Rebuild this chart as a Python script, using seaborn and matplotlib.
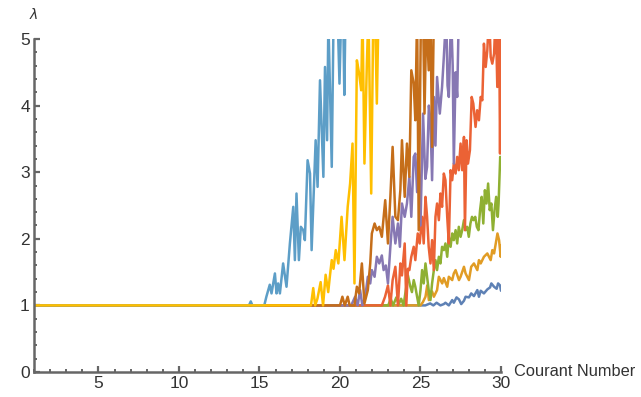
import matplotlib
matplotlib.use("Agg")
import matplotlib.pyplot as plt
from matplotlib.ticker import MultipleLocator
import pandas as pd
import seaborn as sns

# vertices (Courant number, lambda); values above 5 leave the plot range
blue = [(1, 1), (25.3, 1), (25.6, 1.03), (25.8, 1.0), (26.0, 1.04), (26.24, 1.0), (26.45, 1.02),
        (26.55, 1.04), (26.76, 1.0), (26.97, 1.08), (27.07, 1.04), (27.24, 1.12), (27.39, 1.09),
        (27.53, 1.02), (27.7, 1.07), (27.8, 1.13), (28.01, 1.12), (28.15, 1.18), (28.32, 1.14),
        (28.53, 1.23), (28.63, 1.13), (28.74, 1.22), (28.94, 1.18), (29.15, 1.24), (29.32, 1.27),
        (29.4, 1.33), (29.57, 1.28), (29.73, 1.25), (29.82, 1.33), (29.94, 1.3), (30, 1.22)]
orange = [(1, 1), (25.0, 1), (25.15, 1.05), (25.31, 1.13), (25.42, 1.3), (25.52, 1.08), (25.72, 1.21),
          (25.83, 1.13), (26.03, 1.23), (26.14, 1.43), (26.35, 1.33), (26.45, 1.41), (26.66, 1.28),
          (26.76, 1.43), (26.97, 1.38), (27.07, 1.48), (27.18, 1.53), (27.39, 1.38), (27.49, 1.43),
          (27.7, 1.58), (27.8, 1.48), (28.01, 1.38), (28.15, 1.58), (28.32, 1.63), (28.53, 1.53),
          (28.63, 1.68), (28.74, 1.63), (28.94, 1.73), (29.15, 1.78), (29.36, 1.68), (29.46, 1.83),
          (29.57, 1.78), (29.78, 2.08), (29.88, 1.98), (29.98, 1.73), (30, 1.9)]
green = [(1, 1), (23.0, 1), (23.15, 1.1), (23.3, 1.0), (23.5, 1.12), (23.65, 1.02), (23.8, 1.1),
         (23.95, 1.0), (24.1, 1.25), (24.22, 1.45), (24.35, 1.3), (24.47, 1.2), (24.58, 1.38),
         (24.68, 1.28), (24.79, 1.13), (24.89, 1.0), (25.0, 1.23), (25.1, 1.53), (25.2, 1.33),
         (25.31, 1.63), (25.41, 1.43), (25.51, 1.23), (25.62, 1.08), (25.72, 1.33), (25.83, 1.53),
         (25.93, 1.68), (26.03, 1.53), (26.14, 1.73), (26.24, 1.63), (26.34, 1.88), (26.45, 1.83),
         (26.55, 1.93), (26.66, 1.73), (26.76, 2.03), (26.87, 1.88), (26.97, 2.08), (27.07, 1.98),
         (27.18, 2.13), (27.28, 1.93), (27.38, 2.18), (27.49, 2.03), (27.59, 2.13), (27.7, 2.28),
         (27.8, 2.13), (27.9, 2.18), (28.0, 2.03), (28.1, 2.23), (28.2, 2.33), (28.3, 2.28),
         (28.4, 2.33), (28.5, 2.18), (28.6, 2.13), (28.7, 2.43), (28.8, 2.63), (28.9, 2.23),
         (29.0, 2.73), (29.1, 2.53), (29.2, 2.83), (29.3, 2.43), (29.4, 2.53), (29.5, 2.13),
         (29.6, 2.43), (29.7, 2.63), (29.8, 2.33), (29.85, 2.53), (29.95, 3.23), (30.0, 3.05)]
red = [(1, 1), (22.6, 1), (22.8, 1.13), (22.98, 1.3), (23.13, 1.0), (23.27, 1.38), (23.44, 1.58),
       (23.6, 1.0), (23.75, 1.63), (23.85, 1.45), (24.02, 1.93), (24.12, 1.0), (24.22, 1.55),
       (24.31, 1.53), (24.43, 1.73), (24.58, 1.88), (24.68, 1.68), (24.83, 2.08), (24.95, 1.93),
       (25.1, 2.33), (25.2, 1.93), (25.31, 2.63), (25.41, 2.33), (25.51, 1.88), (25.62, 1.63),
       (25.72, 1.98), (25.83, 1.53), (25.93, 2.33), (26.03, 2.53), (26.14, 2.28), (26.24, 2.68),
       (26.34, 2.48), (26.45, 2.98), (26.55, 2.88), (26.66, 2.33), (26.76, 1.93), (26.87, 3.03),
       (26.97, 2.88), (27.07, 3.13), (27.18, 2.98), (27.28, 3.23), (27.38, 3.03), (27.49, 3.43),
       (27.59, 3.03), (27.7, 3.53), (27.76, 2.13), (27.86, 3.48), (27.95, 3.13), (28.07, 3.33),
       (28.18, 4.13), (28.28, 4.03), (28.42, 3.68), (28.52, 3.93), (28.63, 3.78), (28.74, 4.13),
       (28.84, 4.08), (28.94, 4.93), (29.05, 4.58), (29.15, 4.83), (29.26, 5.4), (29.36, 4.73),
       (29.46, 4.63), (29.57, 4.78), (29.67, 5.4), (29.77, 4.28), (29.88, 5.4), (29.94, 3.28),
       (30.0, 5.4)]
purple = [(1, 1), (20.7, 1), (20.94, 1.13), (21.1, 1.0), (21.25, 1.23), (21.39, 1.0), (21.57, 1.13),
          (21.73, 1.43), (21.88, 1.33), (21.98, 1.53), (22.15, 1.43), (22.29, 1.73), (22.44, 1.63),
          (22.6, 1.75), (22.71, 1.53), (22.85, 1.6), (22.98, 1.33), (23.13, 1.88), (23.27, 2.33),
          (23.44, 1.93), (23.6, 2.23), (23.72, 1.88), (23.85, 2.53), (24.02, 2.33), (24.16, 2.53),
          (24.31, 2.93), (24.43, 2.33), (24.58, 3.23), (24.68, 3.28), (24.79, 2.7), (24.89, 3.18),
          (25.0, 2.2), (25.16, 3.88), (25.3, 2.9), (25.41, 3.08), (25.52, 4.0), (25.62, 3.78),
          (25.72, 2.88), (25.83, 4.13), (25.93, 3.4), (26.03, 4.43), (26.2, 3.88), (26.34, 4.28),
          (26.45, 4.73), (26.6, 5.4), (26.68, 4.3), (26.76, 4.13), (26.9, 5.4), (27.0, 4.6),
          (27.07, 3.13), (27.18, 4.5), (27.28, 4.13), (27.38, 5.4), (27.49, 5.6)]
brown = [(1, 1), (20.0, 1), (20.15, 1.13), (20.3, 1.0), (20.48, 1.13), (20.6, 1.0), (20.9, 1.0),
         (21.05, 1.28), (21.19, 1.18), (21.36, 1.63), (21.52, 1.03), (21.73, 1.23), (21.88, 1.63),
         (21.98, 2.08), (22.15, 2.23), (22.29, 2.13), (22.44, 2.18), (22.6, 2.03), (22.81, 2.58),
         (22.98, 1.93), (23.13, 2.63), (23.27, 3.38), (23.44, 2.33), (23.6, 2.28), (23.75, 2.73),
         (23.85, 3.48), (24.02, 2.63), (24.16, 3.43), (24.31, 2.93), (24.43, 4.53), (24.58, 4.33),
         (24.68, 3.78), (24.79, 5.4), (24.89, 2.13), (25.03, 5.4), (25.16, 5.4), (25.25, 3.88),
         (25.37, 5.4), (25.51, 4.53), (25.62, 5.4), (25.72, 3.38), (25.83, 5.4), (25.95, 5.6)]
lightblue = [(1, 1), (14.35, 1), (14.46, 1.06), (14.56, 1), (15.3, 1), (15.43, 1.13), (15.64, 1.31),
             (15.75, 1.18), (15.96, 1.48), (16.06, 1.18), (16.16, 1.33), (16.27, 1.18), (16.47, 1.63),
             (16.68, 1.28), (16.89, 1.93), (17.1, 2.48), (17.2, 1.68), (17.3, 2.68), (17.45, 1.68),
             (17.57, 2.18), (17.72, 2.13), (17.82, 1.98), (17.99, 3.18), (18.14, 2.98), (18.24, 1.83),
             (18.49, 3.48), (18.61, 2.78), (18.76, 4.38), (18.97, 2.93), (19.07, 4.58), (19.2, 3.48),
             (19.28, 5.3), (19.49, 3.08), (19.6, 5.3), (19.7, 5.3), (19.85, 5.4), (19.97, 4.33),
             (20.07, 5.3), (20.2, 5.4), (20.27, 4.16), (20.35, 5.5)]
gold = [(1, 1), (18.2, 1), (18.34, 1.26), (18.46, 1.0), (18.6, 1.1), (18.8, 1.35), (18.95, 1.0),
        (19.11, 1.46), (19.27, 1.2), (19.38, 1.45), (19.49, 1.68), (19.6, 1.55), (19.74, 1.83),
        (19.9, 1.63), (20.1, 2.33), (20.28, 1.68), (20.48, 2.48), (20.63, 2.83), (20.78, 3.43),
        (20.9, 1.33), (21.05, 4.68), (21.19, 4.48), (21.32, 4.23), (21.4, 5.4), (21.52, 3.13),
        (21.67, 4.63), (21.77, 5.4), (21.94, 2.68), (22.07, 5.4), (22.18, 5.4), (22.29, 4.03),
        (22.4, 5.5)]

series_names = ["blue", "orange", "green", "red", "purple", "brown", "lightblue", "gold"]
series_data = [blue, orange, green, red, purple, brown, lightblue, gold]
colors = ["#5E81B5", "#E19C24", "#8FB032", "#EB6235", "#8778B3", "#C56E1A", "#5D9EC7", "#FFBF00"]

rows = []
for name, pts in zip(series_names, series_data):
    for x, y in pts:
        rows.append({"series": name, "courant": x, "lam": y})
df = pd.DataFrame(rows)

sns.set_style("ticks")
plt.rcParams["font.family"] = ["Liberation Sans", "DejaVu Sans"]

axis_col = "#666666"
text_col = "#333333"

fig = plt.figure(figsize=(6.41, 3.97), dpi=100)
ax = fig.add_axes([34 / 641, 1 - 372 / 397, 467 / 641, 333 / 397])

sns.lineplot(data=df, x="courant", y="lam", hue="series", hue_order=series_names,
             palette=dict(zip(series_names, colors)), estimator=None, sort=False,
             legend=False, linewidth=1.8, ax=ax)

ax.set_xlim(1, 30)
ax.set_ylim(0, 5)
ax.xaxis.set_major_locator(MultipleLocator(5))
ax.xaxis.set_minor_locator(MultipleLocator(1))
ax.yaxis.set_major_locator(MultipleLocator(1))
ax.yaxis.set_minor_locator(MultipleLocator(0.2))

for side in ["top", "right"]:
    ax.spines[side].set_visible(False)
for side in ["left", "bottom"]:
    ax.spines[side].set_color(axis_col)
    ax.spines[side].set_linewidth(1.8)

ax.tick_params(which="major", direction="in", length=4, width=1.6, color=axis_col,
               labelsize=12.5, labelcolor=text_col, pad=3)
ax.tick_params(which="minor", direction="in", length=2.2, width=1.4, color=axis_col)
ax.set_xlabel("")
ax.set_ylabel("")

ax.text(1.028, 0.0, "Courant Number", transform=ax.transAxes, ha="left", va="center",
        fontsize=11.8, color=text_col)
ax.text(0.0, 1.072, "λ", transform=ax.transAxes, ha="center", va="center",
        fontsize=10, style="italic", color=text_col, family="DejaVu Sans")

fig.savefig("out.png", dpi=100)
